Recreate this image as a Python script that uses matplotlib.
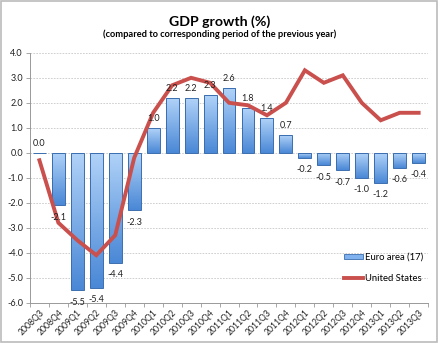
import numpy as np
import matplotlib
matplotlib.use('Agg')
from matplotlib import pyplot as plt
from matplotlib.colors import LinearSegmentedColormap
from matplotlib.patches import Rectangle, Patch
from matplotlib.lines import Line2D

plt.rcParams['font.family'] = ['Lato', 'DejaVu Sans']

quarters = ['2008Q3', '2008Q4',
            '2009Q1', '2009Q2', '2009Q3', '2009Q4',
            '2010Q1', '2010Q2', '2010Q3', '2010Q4',
            '2011Q1', '2011Q2', '2011Q3', '2011Q4',
            '2012Q1', '2012Q2', '2012Q3', '2012Q4',
            '2013Q1', '2013Q2', '2013Q3']
euro_area = [0.0, -2.1, -5.5, -5.4, -4.4, -2.3, 1.0, 2.2, 2.2, 2.3, 2.6,
             1.8, 1.4, 0.7, -0.2, -0.5, -0.7, -1.0, -1.2, -0.6, -0.4]
united_states = [-0.3, -2.8, -3.5, -4.1, -3.3, -0.2, 1.6, 2.7, 3.0, 2.8, 2.0,
                 1.9, 1.5, 2.0, 3.3, 2.8, 3.1, 2.0, 1.3, 1.6, 1.6]

x = np.arange(len(quarters))
bar_w = 0.68
red = '#C9504C'
edge = '#3A6DAE'
txt = '#222222'

fig = plt.figure(figsize=(4.4, 3.43), dpi=100)
ax = fig.add_axes([0.068, 0.1175, 0.905, 0.7285])

# vertical gradient, light at top, darker at the bottom
grad = LinearSegmentedColormap.from_list('blu', ['#4A88D6', '#B0D2F8'])
ramp = np.linspace(0, 1, 64).reshape(-1, 1)

bars = ax.bar(x, euro_area, bar_w, facecolor='none', edgecolor=edge,
              linewidth=0.7, zorder=3)
for b in bars:
    x0, y0 = b.get_x(), b.get_y()
    w, h = b.get_width(), b.get_height()
    if h == 0:
        continue
    lo, hi = min(y0, y0 + h), max(y0, y0 + h)
    im = ax.imshow(ramp, cmap=grad, origin='lower', aspect='auto',
                   extent=(x0, x0 + w, lo, hi), zorder=2)
    im.set_clip_path(Rectangle((x0, lo), w, hi - lo, transform=ax.transData))

ax.plot(x, united_states, color=red, linewidth=2.8, zorder=4,
        solid_joinstyle='miter')

for xi, v in zip(x, euro_area):
    off = 7 if v >= 0 else -8.5
    ax.annotate('%.1f' % v, (xi, v), xytext=(0, off), textcoords='offset points',
                ha='center', va='center', fontsize=6.5, color=txt, zorder=5)

ax.set_xlim(-0.5, len(quarters) - 0.5)
ax.set_ylim(-6, 4)
ax.set_yticks(np.arange(-6, 4.5, 1))
ax.set_yticklabels(['%.1f' % t for t in np.arange(-6, 4.5, 1)])
ax.set_xticks(x)
ax.set_xticklabels(quarters, rotation=45, ha='right', rotation_mode='anchor')
ax.set_xticks(np.arange(-0.5, len(quarters), 1), minor=True)
ax.tick_params(axis='x', which='major', length=0, labelsize=6.2, pad=4)
ax.tick_params(axis='x', which='minor', length=3, color='#999999', width=0.6)
ax.tick_params(axis='y', labelsize=6.5, length=3, color='#999999', width=0.6, pad=2)
for lab in ax.get_xticklabels() + ax.get_yticklabels():
    lab.set_color(txt)

ax.grid(axis='y', linestyle=(0, (2, 1.5)), color='#C8C8C8', linewidth=0.6, zorder=0)
for s in ['top', 'right']:
    ax.spines[s].set_visible(False)
for s in ['left', 'bottom']:
    ax.spines[s].set_color('#999999')
    ax.spines[s].set_linewidth(0.7)

handles = [Patch(facecolor='#7FB2EE', edgecolor=edge, linewidth=0.6),
           Line2D([], [], color=red, linewidth=2.8)]
ax.legend(handles, ['Euro area (17)', 'United States'], loc='upper left',
          bbox_to_anchor=(0.78, 0.215), frameon=False, fontsize=6.8,
          handlelength=2.0, handleheight=0.5, handletextpad=0.15,
          labelspacing=1.3, borderaxespad=0)

fig.text(0.5, 0.938, 'GDP growth (%)', ha='center', va='center',
         fontsize=10.2, fontweight='bold')
fig.text(0.5, 0.9, '(compared to corresponding period of the previous year)',
         ha='center', va='center', fontsize=6.7, fontweight='bold')

fig.patches.append(Rectangle((0.002, 0.003), 0.992, 0.993, transform=fig.transFigure,
                             fill=False, edgecolor='#BBBBBB', linewidth=1.2))

fig.savefig('out.png', dpi=100)
